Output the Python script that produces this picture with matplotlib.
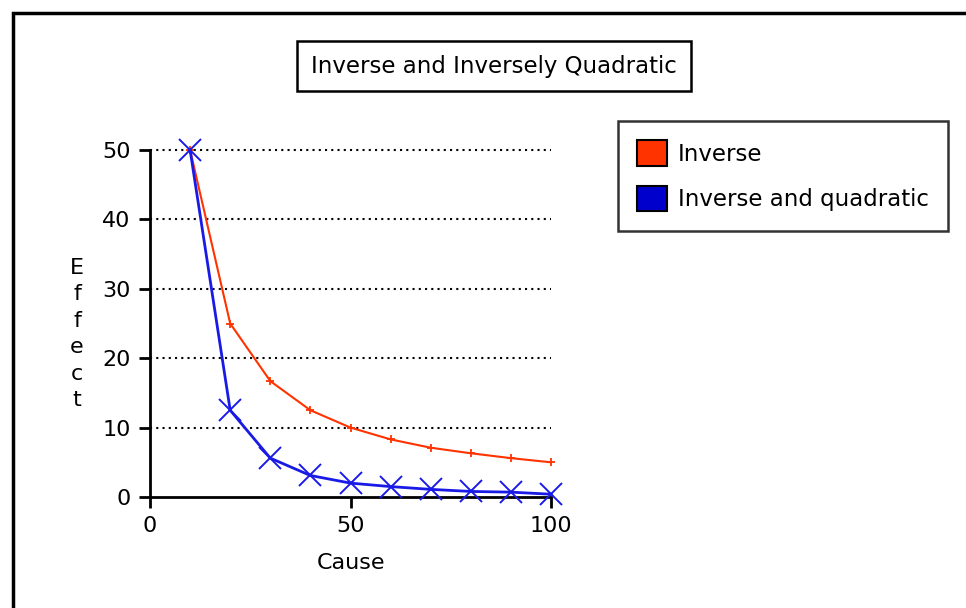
import matplotlib.pyplot as plt
from matplotlib.patches import Rectangle, Patch

cause = [10, 20, 30, 40, 50, 60, 70, 80, 90, 100]
inverse = [50, 25, 16.7, 12.5, 10, 8.3, 7.1, 6.3, 5.6, 5.0]
inverse_quad = [50, 12.5, 5.6, 3.1, 2.0, 1.5, 1.1, 0.8, 0.7, 0.4]
x_ticks = [0, 50, 100]
y_ticks = [0, 10, 20, 30, 40, 50]

RED = "#ff3300"
BLUE = "#1a1ae6"
FS = 16

fig = plt.figure(figsize=(9.66, 6.08), dpi=100)
ax = fig.add_axes([150 / 966, 1 - 497 / 608, 401 / 966, 347 / 608])

# outer frame, runs off the right/bottom edge like the screenshot
fig.patches.append(Rectangle((13 / 966, -0.1), 1.2, 1 - 13 / 608 + 0.1,
                             transform=fig.transFigure, fill=False,
                             edgecolor="black", linewidth=2.5, clip_on=False))

for y in y_ticks[1:]:
    ax.plot([0, 100], [y, y], color="black", linestyle=(0, (1, 2)),
            linewidth=1.5, zorder=1, clip_on=False)

ax.plot(cause, inverse, color=RED, linewidth=1.5, marker="+",
        markersize=6, markeredgewidth=1.3, zorder=2, clip_on=False)
ax.plot(cause, inverse_quad, color=BLUE, linewidth=2, marker="x",
        markersize=16, markeredgewidth=1.4, zorder=3, clip_on=False)

ax.set_xlim(0, 100)
ax.set_ylim(0, 50)
ax.set_xticks(x_ticks)
ax.set_yticks(y_ticks)
ax.spines["top"].set_visible(False)
ax.spines["right"].set_visible(False)
for s in ("left", "bottom"):
    ax.spines[s].set_linewidth(2)
ax.tick_params(direction="out", length=8, width=2, labelsize=FS, pad=6)

ax.set_xlabel("Cause", fontsize=FS, labelpad=12)
fig.text(77 / 966, 1 - 334 / 608, "\n".join("Effect"), fontsize=FS,
         ha="center", va="center", linespacing=1.4)

fig.text(494 / 966, 1 - 66 / 608, "Inverse and Inversely Quadratic",
         fontsize=FS + 0.5, ha="center", va="center",
         bbox=dict(boxstyle="square,pad=0.6", facecolor="white",
                   edgecolor="black", linewidth=1.8))

handles = [Patch(facecolor=RED, edgecolor="black", linewidth=1.5),
           Patch(facecolor="#0000cc", edgecolor="black", linewidth=1.5)]
leg = fig.legend(handles, ["Inverse", "Inverse and quadratic"],
                 loc="upper left", bbox_to_anchor=(618 / 966, 1 - 121 / 608),
                 fontsize=FS + 0.5, frameon=True, fancybox=False,
                 handlelength=1.3, handleheight=1.35, handletextpad=0.45,
                 borderpad=0.85, labelspacing=0.85, borderaxespad=0)
leg.get_frame().set_edgecolor("black")
leg.get_frame().set_linewidth(1.8)

fig.savefig("out.png", dpi=100)
